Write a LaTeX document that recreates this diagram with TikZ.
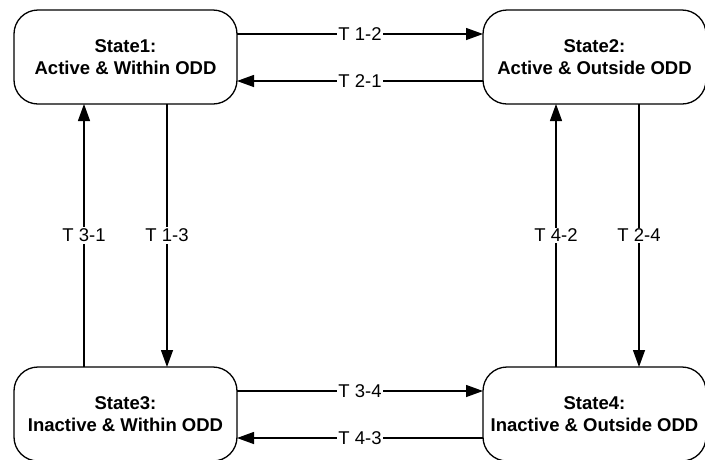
\documentclass[tikz,border=0pt]{standalone}
\usepackage{fontspec}
\setmainfont{Liberation Sans}
\usetikzlibrary{arrows.meta}
\begin{document}
\begin{tikzpicture}[x=1pt,y=-1pt,
  statebox/.style={draw,line width=1.3pt,rounded corners=24pt,minimum width=223pt,minimum height=94pt,inner sep=0pt,outer sep=0pt,align=center,font=\fontsize{18.5}{21.5}\selectfont\bfseries},
  arr/.style={line width=1.3pt,-{Triangle[length=17pt,width=12pt]}},
  lbl/.style={fill=white,inner sep=1.5pt,font=\fontsize{18.5}{21.5}\selectfont}]
\useasboundingbox (0,0) rectangle (705,459);
\node[statebox] (s1) at (125.5,57) {State1:\\Active \& Within ODD};
\node[statebox] (s2) at (594.5,57) {State2:\\Active \& Outside ODD};
\node[statebox] (s3) at (125.5,414) {State3:\\Inactive \& Within ODD};
\node[statebox] (s4) at (594.5,414) {State4:\\Inactive \& Outside ODD};
% top horizontals
\draw[arr] ([yshift=-24pt]s1.north east) -- node[lbl]{T 1-2} ([yshift=-24pt]s2.north west);
\draw[arr] ([yshift=23pt]s2.south west) -- node[lbl]{T 2-1} ([yshift=23pt]s1.south east);
% bottom horizontals
\draw[arr] ([yshift=-24pt]s3.north east) -- node[lbl]{T 3-4} ([yshift=-24pt]s4.north west);
\draw[arr] ([yshift=23pt]s4.south west) -- node[lbl]{T 4-3} ([yshift=23pt]s3.south east);
% left verticals
\draw[arr] ([xshift=70pt]s3.north west) -- node[lbl]{T 3-1} ([xshift=70pt]s1.south west);
\draw[arr] ([xshift=153pt]s1.south west) -- node[lbl]{T 1-3} ([xshift=153pt]s3.north west);
% right verticals
\draw[arr] ([xshift=73pt]s4.north west) -- node[lbl]{T 4-2} ([xshift=73pt]s2.south west);
\draw[arr] ([xshift=156pt]s2.south west) -- node[lbl]{T 2-4} ([xshift=156pt]s4.north west);
\end{tikzpicture}
\end{document}
